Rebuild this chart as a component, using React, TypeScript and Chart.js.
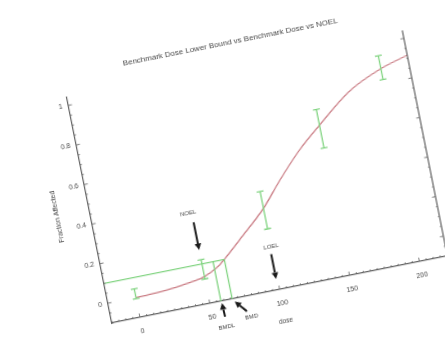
import React, { useEffect, useRef } from 'react';
import { Chart, registerables } from 'chart.js';

Chart.register(...registerables);

// Observed data (dose groups) with confidence bars
const doses = [0, 50, 100, 150, 200];
const lowerCI = [-0.005, 0.024, 0.206, 0.545, 0.82];
const upperCI = [0.044, 0.121, 0.395, 0.74, 0.94];

// Fitted dose-response curve
const curveDose = [0, 10, 20, 30, 40, 50, 60, 66, 80, 100, 115, 133, 150, 175, 200, 220];
const curveResp = [0.0, 0.002, 0.006, 0.012, 0.022, 0.036, 0.068, 0.1, 0.185, 0.31, 0.43, 0.56, 0.66, 0.795, 0.875, 0.915];

// Benchmark values
const bmr = 0.1;
const bmd = 66;
const bmdl = 58;
const noel = 50;
const loel = 99;

// Axes
const xTicks = [0, 50, 100, 150, 200];
const yTicks = [0, 0.2, 0.4, 0.6, 0.8, 1];
const xMin = -20;
const xMax = 220;
const yMin = -0.1;
const yMax = 1.04;

const FONT = 'Liberation Sans';
const AXIS = '#626262';
const TEXT = '#4a4a4a';
const GREEN = '#82d482';
const RED = '#c97a82';

function arrow(ctx: CanvasRenderingContext2D, x1: number, y1: number, x2: number, y2: number) {
  const ang = Math.atan2(y2 - y1, x2 - x1);
  const hl = 6.5, hw = 3.3;
  const bx = x2 - hl * Math.cos(ang);
  const by = y2 - hl * Math.sin(ang);
  ctx.beginPath();
  ctx.moveTo(x1, y1);
  ctx.lineTo(bx, by);
  ctx.stroke();
  ctx.beginPath();
  ctx.moveTo(x2, y2);
  ctx.lineTo(bx + hw * Math.sin(ang), by - hw * Math.cos(ang));
  ctx.lineTo(bx - hw * Math.sin(ang), by + hw * Math.cos(ang));
  ctx.closePath();
  ctx.fill();
}

const annotPlugin = {
  id: 'annot',
  afterDatasetsDraw(chart: any) {
    const { ctx, chartArea: ca } = chart;
    const x = chart.scales.x;
    const y = chart.scales.y;
    ctx.save();

    // right frame
    ctx.strokeStyle = AXIS;
    ctx.lineWidth = 1.2;
    ctx.beginPath();
    ctx.moveTo(ca.right, ca.top);
    ctx.lineTo(ca.right, ca.bottom);
    ctx.stroke();

    // minor inward ticks
    ctx.lineWidth = 0.8;
    for (let v = -20; v <= 220; v += 5) {
      const px = x.getPixelForValue(v);
      const len = v % 50 === 0 ? 4 : 2;
      ctx.beginPath();
      ctx.moveTo(px, ca.bottom);
      ctx.lineTo(px, ca.bottom - len);
      ctx.stroke();
    }
    for (let i = -2; i <= 20; i++) {
      const v = i * 0.05;
      const py = y.getPixelForValue(v);
      const len = i % 4 === 0 ? 3.5 : 1.5;
      ctx.beginPath();
      ctx.moveTo(ca.left, py);
      ctx.lineTo(ca.left + len, py);
      ctx.moveTo(ca.right, py);
      ctx.lineTo(ca.right - len, py);
      ctx.stroke();
    }

    // error bars
    ctx.strokeStyle = GREEN;
    ctx.lineWidth = 1.3;
    doses.forEach((d, i) => {
      const px = x.getPixelForValue(d);
      const pt = y.getPixelForValue(upperCI[i]);
      const pb = y.getPixelForValue(lowerCI[i]);
      ctx.beginPath();
      ctx.moveTo(px, pt);
      ctx.lineTo(px, pb);
      ctx.moveTo(px - 3.5, pt);
      ctx.lineTo(px + 3.5, pt);
      ctx.moveTo(px - 3.5, pb);
      ctx.lineTo(px + 3.5, pb);
      ctx.stroke();
    });

    // arrows and labels
    ctx.strokeStyle = '#1a1a1a';
    ctx.fillStyle = '#1a1a1a';
    ctx.lineWidth = 2;
    const nx = x.getPixelForValue(noel);
    arrow(ctx, nx, y.getPixelForValue(0.31), nx, y.getPixelForValue(0.17));
    const lx = x.getPixelForValue(loel);
    arrow(ctx, lx, y.getPixelForValue(0.08), lx, y.getPixelForValue(-0.045));
    const bdlx = x.getPixelForValue(bmdl);
    arrow(ctx, bdlx + 1, ca.bottom + 16, bdlx + 0.5, ca.bottom + 2);
    const bdx = x.getPixelForValue(bmd);
    arrow(ctx, x.getPixelForValue(74.5), ca.bottom + 15, bdx + 2, ca.bottom + 3);

    ctx.fillStyle = TEXT;
    ctx.font = `6px "${FONT}"`;
    ctx.textAlign = 'center';
    ctx.textBaseline = 'middle';
    ctx.fillText('NOEL', x.getPixelForValue(47.5), y.getPixelForValue(0.36));
    ctx.fillText('LOEL', x.getPixelForValue(100), y.getPixelForValue(0.114));
    ctx.fillText('BMDL', x.getPixelForValue(58.4), ca.bottom + 26);
    ctx.fillText('BMD', x.getPixelForValue(77), ca.bottom + 21);
    ctx.restore();
  },
};

export default function App() {
  const ref = useRef<HTMLCanvasElement>(null);

  useEffect(() => {
    if (!ref.current) return;
    const curve = curveDose.map((d, i) => ({ x: d, y: curveResp[i] }));
    const chart = new Chart(ref.current, {
      type: 'line',
      data: {
        datasets: [
          {
            label: 'BMR',
            data: [{ x: xMin, y: bmr }, { x: bmd, y: bmr }],
            borderColor: GREEN,
            borderWidth: 1.3,
            pointRadius: 0,
          },
          {
            label: 'BMDL',
            data: [{ x: bmdl, y: bmr }, { x: bmdl, y: yMin }],
            borderColor: GREEN,
            borderWidth: 1.3,
            pointRadius: 0,
          },
          {
            label: 'BMD',
            data: [{ x: bmd, y: bmr }, { x: bmd, y: yMin }],
            borderColor: GREEN,
            borderWidth: 1.3,
            pointRadius: 0,
          },
          {
            label: 'Model',
            data: curve,
            borderColor: RED,
            borderWidth: 1.2,
            pointRadius: 0,
            cubicInterpolationMode: 'monotone',
          },
        ],
      },
      options: {
        animation: false,
        responsive: false,
        events: [],
        layout: { padding: { left: 56, right: 18, top: 0, bottom: 36 } },
        plugins: {
          legend: { display: false },
          tooltip: { enabled: false },
          title: {
            display: true,
            fullSize: false,
            text: 'Benchmark Dose Lower Bound vs Benchmark Dose vs NOEL',
            color: TEXT,
            font: { family: FONT, size: 8, weight: 'normal' },
            padding: { top: 32.2, bottom: 17.2 },
          },
        },
        scales: {
          x: {
            type: 'linear',
            position: 'bottom',
            min: xMin,
            max: xMax,
            grid: { display: false, drawTicks: false },
            border: { display: true, color: AXIS, width: 1.2 },
            afterBuildTicks: (s: any) => {
              s.ticks = xTicks.map((v) => ({ value: v }));
            },
            afterFit: (s: any) => {
              s.height = 45;
            },
            ticks: {
              color: TEXT,
              font: { family: FONT, size: 7 },
              padding: 9.5,
              maxRotation: 0,
              autoSkip: false,
              callback: (v: any) => String(v),
            },
            title: {
              display: true,
              text: 'dose',
              color: TEXT,
              font: { family: FONT, size: 6.5 },
              padding: { top: 0, bottom: 8.6 },
            },
          },
          y: {
            type: 'linear',
            position: 'left',
            min: yMin,
            max: yMax,
            grid: { display: false, drawTicks: false },
            border: { display: true, color: AXIS, width: 1.2 },
            afterBuildTicks: (s: any) => {
              s.ticks = yTicks.map((v) => ({ value: v }));
            },
            afterFit: (s: any) => {
              s.width = 44;
            },
            ticks: {
              color: TEXT,
              font: { family: FONT, size: 7 },
              padding: 6,
              callback: (v: any) => String(Math.round(v * 10) / 10),
            },
            title: {
              display: true,
              text: 'Fraction Affected',
              color: TEXT,
              font: { family: FONT, size: 7 },
              padding: { top: 6.8, bottom: 0 },
            },
          },
        },
      },
      plugins: [annotPlugin],
    } as any);
    return () => chart.destroy();
  }, []);

  return (
    <div
      style={{
        position: 'fixed',
        left: 0,
        top: 0,
        width: 445,
        height: 362,
        overflow: 'hidden',
        background: '#ffffff',
      }}
    >
      <canvas
        ref={ref}
        width={460}
        height={370}
        style={{
          position: 'absolute',
          left: 12,
          top: 34,
          width: 460,
          height: 370,
          transformOrigin: '100px 289px',
          transform: 'rotate(-11.3deg)',
          filter: 'blur(0.5px)',
        }}
      />
    </div>
  );
}
